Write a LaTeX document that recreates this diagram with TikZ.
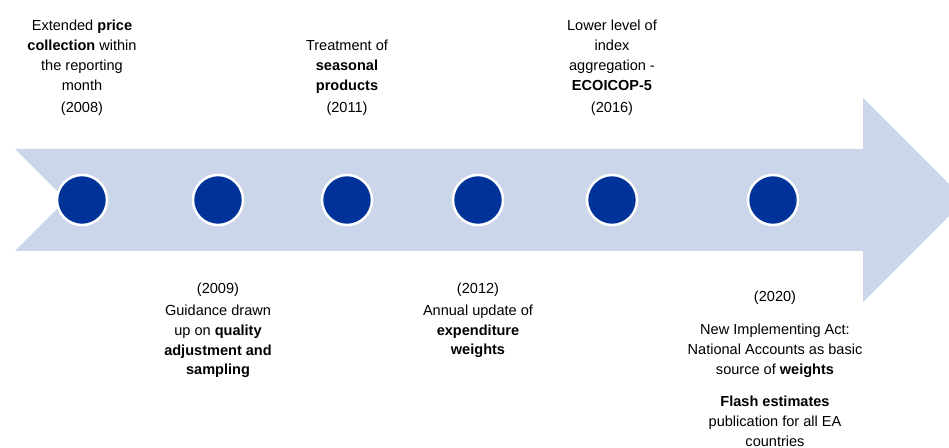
\documentclass[tikz,border=0pt]{standalone}
\usepackage{fontspec}
\setmainfont{Liberation Sans}
\usetikzlibrary{positioning}
\definecolor{arrowblue}{RGB}{204,214,234}
\definecolor{eublue}{RGB}{0,51,153}
\begin{document}
\begin{tikzpicture}[x=1bp,y=-1bp]
	\tikzstyle{dot}=[circle, minimum size = 50bp, inner sep=0pt, fill = eublue, draw = white, line width = 2.5bp]
	\tikzstyle{txt}=[align=center, inner sep=0pt, anchor=base, font=\fontsize{14.6}{20}\selectfont]
	\useasboundingbox (0,0) rectangle (949,448);
	% timeline arrow
	\fill[arrowblue] (15,149) -- (863,149) -- (863,98) -- (965,200) -- (863,302)
		-- (863,251) -- (15,251) -- (66,200) -- cycle;
	\node[dot] (d2008) at (82,200) {};
	\node[dot] (d2009) at (218,200) {};
	\node[dot] (d2011) at (347,200) {};
	\node[dot] (d2012) at (478,200) {};
	\node[dot] (d2016) at (612,200) {};
	\node[dot] (d2020) at (773,200) {};
	% above the line (base = last line)
	\node[txt] (t2008) at (82,90.7) {Extended \textbf{price}\\\textbf{collection} within\\the reporting\\month};
	\node[txt] (y2008) at (82,112.7) {(2008)};
	\node[txt] (t2011) at (347,90.7) {Treatment of\\\textbf{seasonal}\\\textbf{products}};
	\node[txt] (y2011) at (347,112.7) {(2011)};
	\node[txt] (t2016) at (612,90.7) {Lower level of\\index\\aggregation -\\\textbf{ECOICOP-5}};
	\node[txt] (y2016) at (612,112.7) {(2016)};
	% below the line
	\node[txt] (y2009) at (218,294) {(2009)};
	\node[txt] (t2009) at (218,375) {Guidance drawn\\up on \textbf{quality}\\\textbf{adjustment and}\\\textbf{sampling}};
	\node[txt] (y2012) at (478,294) {(2012)};
	\node[txt] (t2012) at (478,355) {Annual update of\\\textbf{expenditure}\\\textbf{weights}};
	\node[txt] (y2020) at (775,301.7) {(2020)};
	\node[txt] (t2020) at (775,446.5) {New Implementing Act:\\National Accounts as basic\\source of \textbf{weights}\\[12bp]\textbf{Flash estimates}\\publication for all EA\\countries};
\end{tikzpicture}
\end{document}
